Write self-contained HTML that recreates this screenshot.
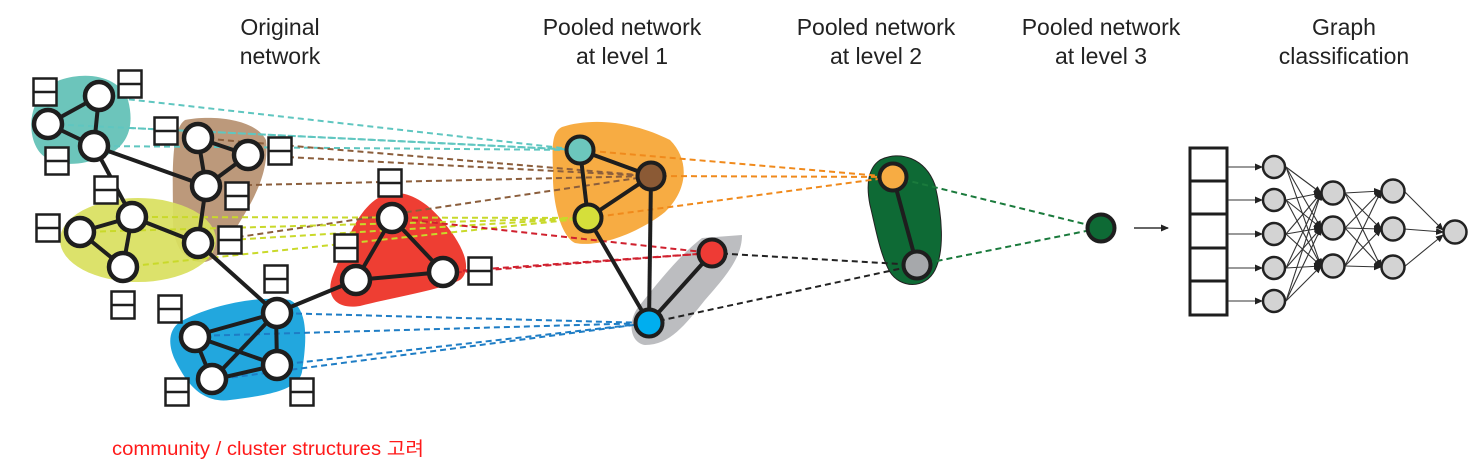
<!DOCTYPE html>
<html><head><meta charset="utf-8"><style>
html,body{margin:0;padding:0;background:#fff;width:1480px;height:472px;overflow:hidden}
svg{display:block}
.t{font-family:"Liberation Sans",Arial,sans-serif;font-size:23px;fill:#222;text-anchor:middle}
.n{fill:#fff;stroke:#1e1e1e;stroke-width:4.5}
.e{stroke:#1e1e1e;stroke-width:4;fill:none}
.d{stroke-width:2;stroke-dasharray:6 4;fill:none}
.b{fill:#fff;stroke:#1e1e1e;stroke-width:2.5}
.g{fill:#d3d3d3;stroke:#222;stroke-width:2.5}
.a{stroke:#333;stroke-width:1.1;fill:none;marker-end:url(#ah)}
</style></head><body>
<svg width="1480" height="472" viewBox="0 0 1480 472" xmlns="http://www.w3.org/2000/svg">
<defs>
<marker id="ah" markerWidth="8" markerHeight="8" refX="7" refY="4" orient="auto" markerUnits="userSpaceOnUse"><path d="M0,0.5 L8,4 L0,7.5 z" fill="#222"/></marker>
<g id="bx"><rect x="-11.5" y="-13.5" width="23" height="27" class="b"/><line x1="-11.5" y1="0" x2="11.5" y2="0" stroke="#1e1e1e" stroke-width="2.5"/></g>
</defs>

<!-- titles -->
<text class="t" x="280" y="35">Original</text><text class="t" x="280" y="64">network</text>
<text class="t" x="622" y="35">Pooled network</text><text class="t" x="622" y="64">at level 1</text>
<text class="t" x="876" y="35">Pooled network</text><text class="t" x="876" y="64">at level 2</text>
<text class="t" x="1101" y="35">Pooled network</text><text class="t" x="1101" y="64">at level 3</text>
<text class="t" x="1344" y="35">Graph</text><text class="t" x="1344" y="64">classification</text>

<!-- blobs -->
<path d="M60,80 C90,70 120,78 128,100 C136,130 125,150 100,158 C80,166 50,168 38,150 C25,130 30,92 60,80 Z" fill="#6cc5bb"/>
<path d="M185,120 C210,115 255,118 266,140 C270,175 250,205 238,225 C228,245 215,265 198,262 C180,258 172,240 173,215 C173,180 170,130 185,120 Z" fill="#b89474" opacity="0.95"/>
<ellipse cx="138" cy="240" rx="78" ry="42" fill="#d9e060" opacity="0.93"/>
<path d="M375,200 C395,185 420,195 440,218 C460,240 475,268 460,280 C440,290 395,297 360,306 C335,310 325,295 333,275 C345,245 355,215 375,200 Z" fill="#ee3e33"/>
<path d="M180,322 C210,305 260,295 290,300 C310,310 306,345 302,372 C298,392 260,396 230,400 C200,404 185,380 175,360 C168,345 168,330 180,322 Z" fill="#22a7de"/>

<!-- level1 blobs -->
<path d="M562,127 C590,118 630,120 670,140 C690,160 688,190 665,212 C640,232 600,248 575,243 C560,235 552,200 553,170 C552,145 552,132 562,127 Z" fill="#f7ac43"/>
<path d="M702,238 L742,235 C742,255 730,272 705,300 C685,325 670,345 645,345 C628,342 628,318 640,305 C660,280 680,255 702,238 Z" fill="#bcbdc0"/>
<path d="M880,160 C900,150 925,158 935,185 C942,215 945,250 935,270 C925,290 900,288 890,272 C880,255 875,225 870,205 C866,185 868,168 880,160 Z" fill="#0e6a35" stroke="#222" stroke-width="1"/>

<!-- dashed lines -->
<g class="d" stroke="#5fc6c0">
<line x1="99" y1="96" x2="580" y2="150"/><line x1="48" y1="124" x2="580" y2="150"/><line x1="94" y1="146" x2="580" y2="150"/><line x1="130" y1="128" x2="580" y2="150"/>
</g>
<g class="d" stroke="#8b5e3c">
<line x1="198" y1="138" x2="651" y2="176"/><line x1="248" y1="155" x2="651" y2="176"/><line x1="206" y1="186" x2="651" y2="176"/><line x1="198" y1="243" x2="651" y2="176"/>
</g>
<g class="d" stroke="#c9d92a">
<line x1="132" y1="217" x2="588" y2="218"/><line x1="80" y1="232" x2="588" y2="218"/><line x1="123" y1="267" x2="588" y2="218"/><line x1="230" y1="240" x2="588" y2="218"/>
</g>
<g class="d" stroke="#d0202e">
<line x1="392" y1="218" x2="712" y2="253"/><line x1="356" y1="280" x2="712" y2="253"/><line x1="443" y1="272" x2="712" y2="253"/>
</g>
<g class="d" stroke="#1e7dc5">
<line x1="276" y1="313" x2="649" y2="323"/><line x1="194" y1="336" x2="649" y2="323"/><line x1="277" y1="365" x2="649" y2="323"/><line x1="212" y1="380" x2="649" y2="323"/>
</g>
<g class="d" stroke="#f08a1c">
<line x1="580" y1="150" x2="893" y2="177"/><line x1="651" y1="176" x2="893" y2="177"/><line x1="588" y1="218" x2="893" y2="177"/>
</g>
<g class="d" stroke="#222">
<line x1="712" y1="253" x2="917" y2="265"/><line x1="649" y1="323" x2="917" y2="265"/>
</g>
<g class="d" stroke="#1a7a3c">
<line x1="893" y1="177" x2="1101" y2="228"/><line x1="917" y1="265" x2="1101" y2="228"/>
</g>

<!-- edges -->
<g class="e">
<line x1="99" y1="96" x2="48" y2="124"/><line x1="48" y1="124" x2="94" y2="146"/><line x1="99" y1="96" x2="94" y2="146"/>
<line x1="94" y1="146" x2="206" y2="186"/><line x1="94" y1="146" x2="132" y2="217"/>
<line x1="198" y1="138" x2="248" y2="155"/><line x1="198" y1="138" x2="206" y2="186"/><line x1="248" y1="155" x2="206" y2="186"/><line x1="206" y1="186" x2="198" y2="243"/>
<line x1="132" y1="217" x2="80" y2="232"/><line x1="80" y1="232" x2="123" y2="267"/><line x1="132" y1="217" x2="123" y2="267"/><line x1="132" y1="217" x2="198" y2="243"/>
<line x1="198" y1="243" x2="276" y2="313"/>
<line x1="392" y1="218" x2="356" y2="280"/><line x1="392" y1="218" x2="443" y2="272"/><line x1="356" y1="280" x2="443" y2="272"/><line x1="356" y1="280" x2="276" y2="313"/>
<line x1="276" y1="313" x2="194" y2="336"/><line x1="276" y1="313" x2="277" y2="365"/><line x1="276" y1="313" x2="212" y2="380"/><line x1="194" y1="336" x2="277" y2="365"/><line x1="194" y1="336" x2="212" y2="380"/><line x1="212" y1="380" x2="277" y2="365"/>
<line x1="580" y1="150" x2="651" y2="176"/><line x1="580" y1="150" x2="588" y2="218"/><line x1="651" y1="176" x2="588" y2="218"/>
<line x1="651" y1="176" x2="649" y2="323"/><line x1="588" y1="218" x2="649" y2="323"/><line x1="712" y1="253" x2="649" y2="323"/>
<line x1="893" y1="177" x2="917" y2="265"/>
</g>

<!-- nodes -->
<g class="n">
<circle cx="99" cy="96" r="14"/><circle cx="48" cy="124" r="14"/><circle cx="94" cy="146" r="14"/>
<circle cx="198" cy="138" r="14"/><circle cx="248" cy="155" r="14"/><circle cx="206" cy="186" r="14"/><circle cx="198" cy="243" r="14"/>
<circle cx="132" cy="217" r="14"/><circle cx="80" cy="232" r="14"/><circle cx="123" cy="267" r="14"/>
<circle cx="392" cy="218" r="14"/><circle cx="356" cy="280" r="14"/><circle cx="443" cy="272" r="14"/>
<circle cx="277" cy="313" r="14"/><circle cx="195" cy="337" r="14"/><circle cx="277" cy="365" r="14"/><circle cx="212" cy="379" r="14"/>
</g>
<g stroke="#1e1e1e" stroke-width="4">
<circle cx="580" cy="150" r="13.5" fill="#6cc6bd"/><circle cx="651" cy="176" r="13.5" fill="#8b5a35"/><circle cx="588" cy="218" r="13.5" fill="#d5df3a"/>
<circle cx="712" cy="253" r="13.5" fill="#ee3b35"/><circle cx="649" cy="323" r="13.5" fill="#00aeef"/>
<circle cx="893" cy="177" r="13.5" fill="#f7ac43"/><circle cx="917" cy="265" r="13.5" fill="#a6a8ab"/>
<circle cx="1101" cy="228" r="13.5" fill="#0e6a35"/>
</g>

<!-- feature boxes -->
<use href="#bx" x="45" y="92"/><use href="#bx" x="130" y="84"/><use href="#bx" x="57" y="161"/>
<use href="#bx" x="106" y="190"/><use href="#bx" x="166" y="131"/><use href="#bx" x="280" y="151"/>
<use href="#bx" x="237" y="196"/><use href="#bx" x="230" y="240"/><use href="#bx" x="48" y="228"/>
<use href="#bx" x="123" y="305"/><use href="#bx" x="170" y="309"/><use href="#bx" x="276" y="279"/>
<use href="#bx" x="390" y="183"/><use href="#bx" x="346" y="248"/><use href="#bx" x="480" y="271"/>
<use href="#bx" x="177" y="392"/><use href="#bx" x="302" y="392"/>

<line x1="1134" y1="228" x2="1168" y2="228" stroke="#333" stroke-width="1.5" marker-end="url(#ah)"/>

<!-- MLP -->
<g fill="#fff" stroke="#1e1e1e" stroke-width="3">
<rect x="1190" y="148" width="37" height="33"/><rect x="1190" y="181" width="37" height="33"/><rect x="1190" y="214" width="37" height="34"/><rect x="1190" y="248" width="37" height="33"/><rect x="1190" y="281" width="37" height="34"/>
</g>
<g>
<line class="a" x1="1228" y1="167" x2="1262" y2="167"/><line class="a" x1="1228" y1="200" x2="1262" y2="200"/><line class="a" x1="1228" y1="234" x2="1262" y2="234"/><line class="a" x1="1228" y1="268" x2="1262" y2="268"/><line class="a" x1="1228" y1="301" x2="1262" y2="301"/>
<g class="a" stroke-width="0.9">
<line x1="1286" y1="167" x2="1321" y2="193"/><line x1="1286" y1="167" x2="1321" y2="228"/><line x1="1286" y1="167" x2="1321" y2="266"/>
<line x1="1286" y1="200" x2="1321" y2="193"/><line x1="1286" y1="200" x2="1321" y2="228"/><line x1="1286" y1="200" x2="1321" y2="266"/>
<line x1="1286" y1="234" x2="1321" y2="193"/><line x1="1286" y1="234" x2="1321" y2="228"/><line x1="1286" y1="234" x2="1321" y2="266"/>
<line x1="1286" y1="268" x2="1321" y2="193"/><line x1="1286" y1="268" x2="1321" y2="228"/><line x1="1286" y1="268" x2="1321" y2="266"/>
<line x1="1286" y1="301" x2="1321" y2="193"/><line x1="1286" y1="301" x2="1321" y2="228"/><line x1="1286" y1="301" x2="1321" y2="266"/>
<line x1="1345" y1="193" x2="1381" y2="191"/><line x1="1345" y1="193" x2="1381" y2="229"/><line x1="1345" y1="193" x2="1381" y2="267"/>
<line x1="1345" y1="228" x2="1381" y2="191"/><line x1="1345" y1="228" x2="1381" y2="229"/><line x1="1345" y1="228" x2="1381" y2="267"/>
<line x1="1345" y1="266" x2="1381" y2="191"/><line x1="1345" y1="266" x2="1381" y2="229"/><line x1="1345" y1="266" x2="1381" y2="267"/>
<line x1="1404" y1="191" x2="1443" y2="230"/><line x1="1404" y1="229" x2="1443" y2="232"/><line x1="1404" y1="267" x2="1443" y2="235"/>
</g>
</g>
<g class="g">
<circle cx="1274" cy="167" r="11"/><circle cx="1274" cy="200" r="11"/><circle cx="1274" cy="234" r="11"/><circle cx="1274" cy="268" r="11"/><circle cx="1274" cy="301" r="11"/>
<circle cx="1333" cy="193" r="11.5"/><circle cx="1333" cy="228" r="11.5"/><circle cx="1333" cy="266" r="11.5"/>
<circle cx="1393" cy="191" r="11.5"/><circle cx="1393" cy="229" r="11.5"/><circle cx="1393" cy="267" r="11.5"/>
<circle cx="1455" cy="232" r="11.5"/>
</g>

<text x="112" y="455" font-family="'Liberation Sans','Noto Sans CJK KR',sans-serif" font-size="19" fill="#ff1a1a" textLength="312" lengthAdjust="spacingAndGlyphs">community / cluster structures 고려</text>
</svg>
</body></html>
